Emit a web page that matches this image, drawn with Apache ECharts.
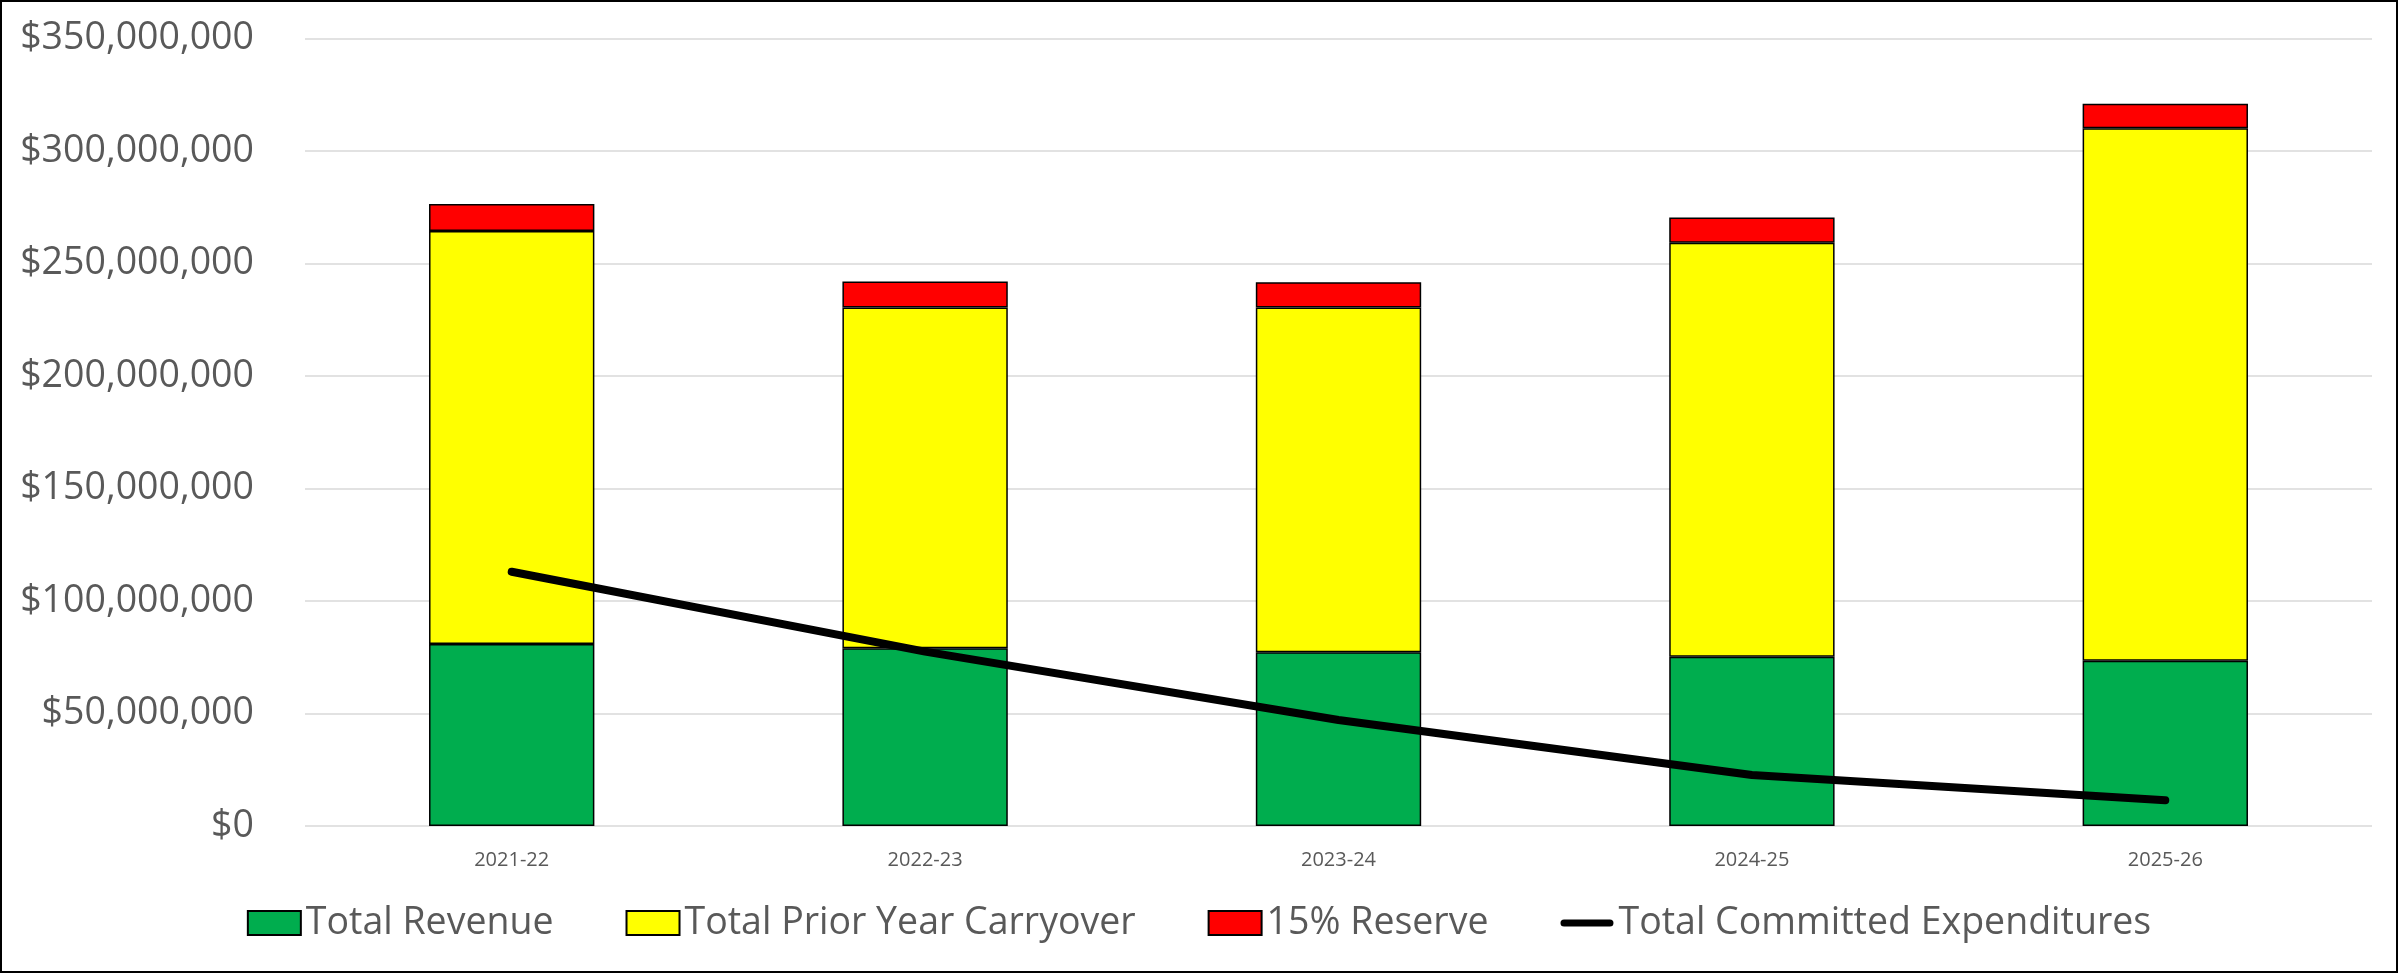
<!DOCTYPE html>
<html>
<head>
<meta charset="utf-8">
<script src="https://cdn.jsdelivr.net/npm/echarts@6/dist/echarts.min.js"></script>
<style>
html,body{margin:0;padding:0;background:#fff;}
#chart{width:2398px;height:973px;}
</style>
</head>
<body>
<div id="chart"></div>
<script>
const categories = ['2021-22', '2022-23', '2023-24', '2024-25', '2025-26'];
const totalRevenue = [80900000, 79000000, 77200000, 75200000, 73500000];
const priorYearCarryover = [183500000, 151400000, 153200000, 184000000, 236600000];
const reserve15 = [12100000, 11600000, 11300000, 11200000, 10900000];
const committedExpenditures = [113000000, 77500000, 47100000, 22700000, 11400000];

const chart = echarts.init(document.getElementById('chart'));
const fontFamily = '"Open Sans", "Noto Sans", sans-serif';
const barBorder = { borderColor: '#000', borderWidth: 1.5 };

chart.setOption({
  animation: false,
  backgroundColor: '#fff',
  graphic: [{
    type: 'rect',
    shape: { x: 1, y: 1, width: 2396, height: 971 },
    style: { fill: 'none', stroke: '#000', lineWidth: 2 },
    silent: true,
    z: 100
  }],
  grid: { left: 305, right: 26, top: 38.5, bottom: 147, containLabel: false },
  legend: {
    top: 899,
    left: 'center',
    itemWidth: 53,
    itemHeight: 24,
    itemGap: 72,
    textStyle: { fontFamily: fontFamily, fontSize: 37.5, color: '#595959' },
    data: [
      { name: 'Total Revenue', icon: 'rect' },
      { name: 'Total Prior Year Carryover', icon: 'rect' },
      { name: '15% Reserve', icon: 'rect' },
      { name: 'Total Committed Expenditures', icon: 'path://M4,0 L56,0 A4,4 0 0 1 56,8 L4,8 A4,4 0 0 1 4,0 Z' }
    ]
  },
  xAxis: {
    type: 'category',
    data: categories,
    axisLine: { show: false },
    axisTick: { show: false },
    axisLabel: { fontFamily: fontFamily, fontSize: 20, color: '#595959', margin: 24 }
  },
  yAxis: {
    type: 'value',
    min: 0,
    max: 350000000,
    interval: 50000000,
    axisLine: { show: false },
    axisTick: { show: false },
    splitLine: { lineStyle: { color: '#d9d9d9', width: 1.5 } },
    axisLabel: {
      fontFamily: fontFamily,
      fontSize: 37.5,
      color: '#595959',
      margin: 51,
      formatter: v => '$' + v.toLocaleString('en-US')
    }
  },
  series: [
    {
      name: 'Total Revenue', type: 'bar', stack: 'total', barCategoryGap: '60%',
      itemStyle: Object.assign({ color: '#00AD4E' }, barBorder),
      data: totalRevenue
    },
    {
      name: 'Total Prior Year Carryover', type: 'bar', stack: 'total',
      itemStyle: Object.assign({ color: '#FFFF00' }, barBorder),
      data: priorYearCarryover
    },
    {
      name: '15% Reserve', type: 'bar', stack: 'total',
      itemStyle: Object.assign({ color: '#FF0000' }, barBorder),
      data: reserve15
    },
    {
      name: 'Total Committed Expenditures', type: 'line',
      symbol: 'none', showSymbol: false, z: 10,
      itemStyle: { color: '#000' },
      lineStyle: { color: '#000', width: 8, cap: 'round', join: 'round' },
      data: committedExpenditures
    }
  ]
});
</script>
</body>
</html>
